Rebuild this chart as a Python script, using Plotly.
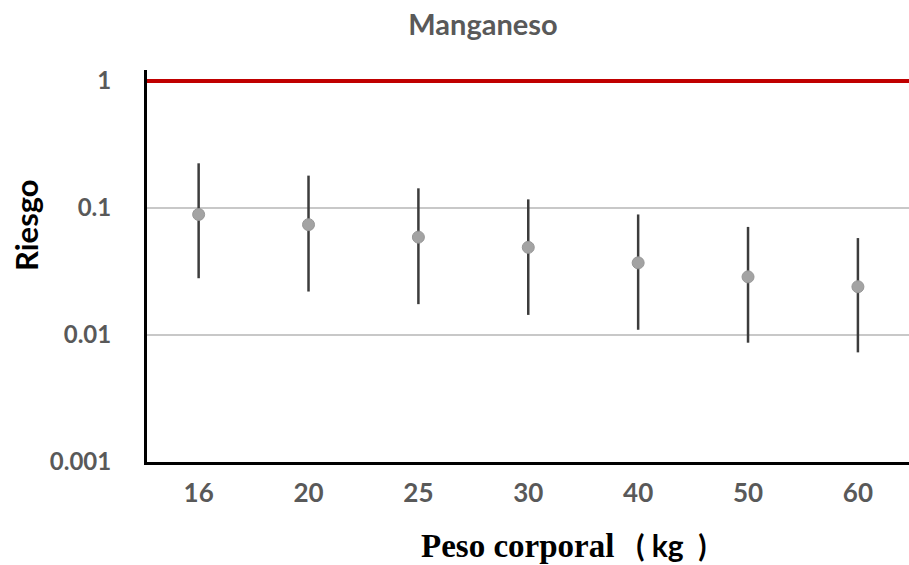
import plotly.graph_objects as go

categories = ["16", "20", "25", "30", "40", "50", "60"]
riesgo = [0.089, 0.074, 0.059, 0.049, 0.037, 0.0287, 0.0240]
upper = [0.225, 0.180, 0.143, 0.117, 0.089, 0.071, 0.058]
lower = [0.028, 0.022, 0.0175, 0.0144, 0.011, 0.0087, 0.0073]
threshold = 1
y_tickvals = [0.001, 0.01, 0.1, 1]
y_ticktext = ["0.001", "0.01", "0.1", "1"]

err_plus = [u - v for u, v in zip(upper, riesgo)]
err_minus = [v - l for v, l in zip(riesgo, lower)]

W, H = 909, 565
L, R, T, B = 147, 0, 70, 103
pw, ph = W - L - R, H - T - B

fig = go.Figure()
fig.add_trace(go.Scatter(
    x=categories, y=riesgo, mode="markers",
    marker=dict(size=12, color="#A3A3A3", line=dict(color="#979797", width=1)),
    error_y=dict(type="data", symmetric=False, array=err_plus, arrayminus=err_minus,
                 color="#3C3C3C", thickness=2.5, width=0),
    showlegend=False,
))

fig.add_shape(type="line", xref="paper", x0=0, x1=1, yref="y", y0=threshold, y1=threshold,
              line=dict(color="#C00000", width=4), layer="above")

fig.update_layout(
    width=W, height=H,
    margin=dict(l=L, r=R, t=T, b=B),
    paper_bgcolor="white", plot_bgcolor="white",
    font=dict(family="Lato", color="#595959"),
    title=dict(text="<b>Manganeso</b>", x=483 / W, xref="container", xanchor="center",
               y=1 - 25 / H, yref="container", yanchor="middle",
               font=dict(family="Lato", size=29, color="#595959")),
    xaxis=dict(type="category", range=[-0.47, 6.465], showgrid=False,
               showline=True, linecolor="black", linewidth=3, ticks="",
               tickfont=dict(family="Lato", size=26, color="#595959", weight="bold"),
               ticklabelstandoff=6, zeroline=False),
    yaxis=dict(type="log", range=[-3, 0.087], tickvals=y_tickvals, ticktext=y_ticktext,
               showgrid=True, gridcolor="#C8C8C8", gridwidth=2,
               showline=True, linecolor="black", linewidth=3, ticks="",
               tickfont=dict(family="Lato", size=24, color="#595959", weight="bold"),
               ticklabelstandoff=28, zeroline=False),
    annotations=[
        dict(text="<b>Riesgo</b>", textangle=-90, xref="paper", yref="paper",
             x=-(L - 26) / pw, y=(H - B - 225) / ph, xanchor="center", yanchor="middle",
             showarrow=False, font=dict(family="Lato", size=31, color="black")),
        dict(text="<b><span style='font-family:Liberation Serif'>Peso corporal</span>"
                  "<span style='font-family:Lato;font-size:30px'>\u00a0\u00a0\u00a0(\u00a0kg\u00a0\u00a0)</span></b>",
             xref="paper", yref="paper", x=(563 - L) / pw, y=-(545 - (H - B)) / ph,
             xanchor="center", yanchor="middle", showarrow=False,
             font=dict(family="Liberation Serif", size=33, color="black")),
    ],
)

fig.write_html("out.html", config={"displayModeBar": False},
               post_script="document.body.style.margin='0';document.body.style.overflow='hidden';")
